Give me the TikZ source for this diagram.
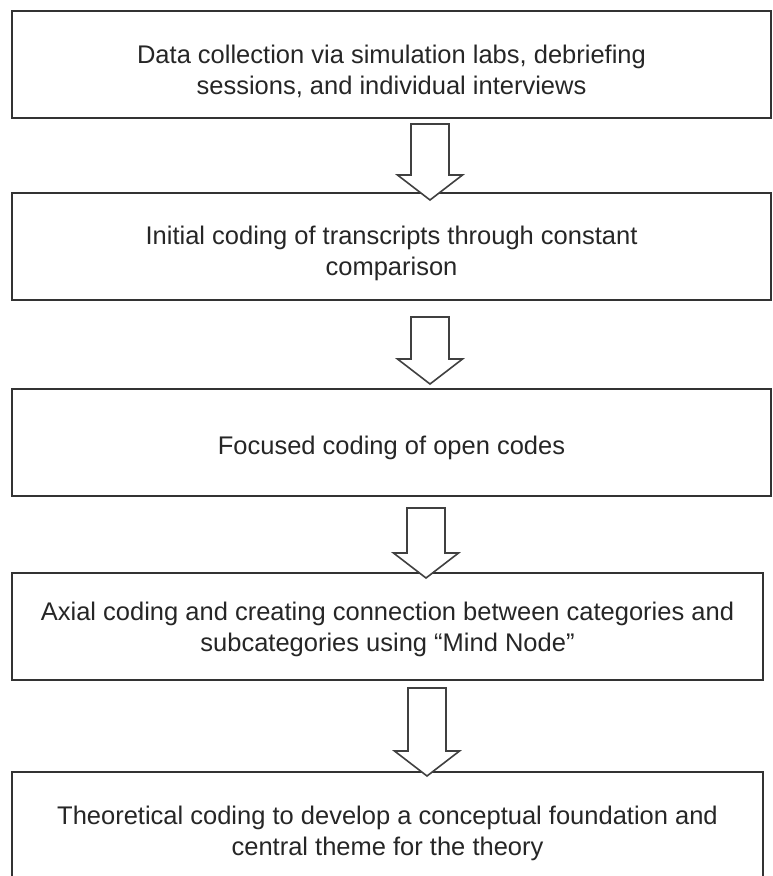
\documentclass[tikz,border=0pt]{standalone}
\usepackage{fontspec}
\setmainfont{Liberation Sans}
\usetikzlibrary{positioning,calc}

\begin{document}
\begin{tikzpicture}[x=1pt,y=-1pt,node distance=75pt,
	stage/.style={draw=black!80,line width=2pt,minimum width=759pt,minimum height=107pt,
		align=center,outer sep=0pt,inner sep=0pt,text=black!85,font=\fontsize{25.5}{31}\selectfont,
		text height=65pt},
	blockarrow/.style={draw=black!75,line width=1.6pt,fill=white,line join=miter,
		to path={let \p1=(\tikztostart),\p2=(\tikztotarget) in
			(\x1-19pt,\y1) -- (\x1-19pt,\y2+25pt) -- (\x1-32.5pt,\y2+25pt) -- (\x1,\y2)
			-- (\x1+32.5pt,\y2+25pt) -- (\x1+19pt,\y2+25pt) -- (\x1+19pt,\y1) -- cycle}}]
	\clip (0,0) rectangle (773,876);
	\node[stage] (d1) at (391.5,64) {Data collection via simulation labs, debriefing\\sessions, and individual interviews};
	\node[stage,below=of d1] (d2) {Initial coding of transcripts through constant\\comparison};
	\node[stage,below=89pt of d2,text height=30pt] (d3) {Focused coding of open codes};
	\node[stage,below=77.5pt of d3,xshift=-4pt,minimum width=751pt,text height=56pt] (d4) {Axial coding and creating connection between categories and\\subcategories using “Mind Node”};
	\node[stage,below=92pt of d4,minimum width=751pt] (d5) {Theoretical coding to develop a conceptual foundation and\\central theme for the theory};
	\draw[blockarrow] ([xshift=38.5pt,yshift=-6.5pt]d1.south) to ([xshift=38.5pt,yshift=-7.5pt]d2.north);
	\draw[blockarrow] ([xshift=38.5pt,yshift=-17.5pt]d2.south) to ([xshift=38.5pt,yshift=4.5pt]d3.north);
	\draw[blockarrow] ([xshift=34.5pt,yshift=-12.5pt]d3.south) to ([xshift=38.5pt,yshift=-5pt]d4.north);
	\draw[blockarrow] ([xshift=39.5pt,yshift=-8pt]d4.south) to ([xshift=39.5pt,yshift=-4pt]d5.north);
\end{tikzpicture}
\end{document}
